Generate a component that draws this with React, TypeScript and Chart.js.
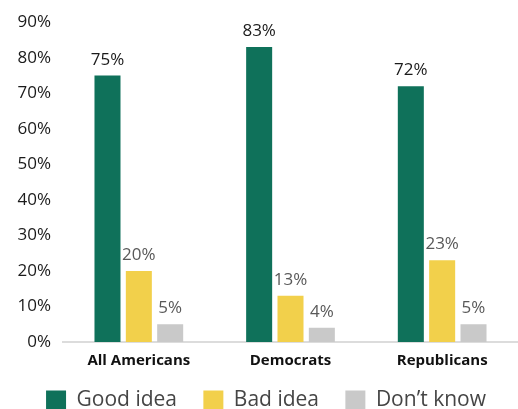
import React, { useEffect, useRef } from "react";
import { Chart, registerables } from "chart.js";

Chart.register(...registerables);

const categories = ["All Americans", "Democrats", "Republicans"];
const goodIdea = [75, 83, 72];
const badIdea = [20, 13, 23];
const dontKnow = [5, 4, 5];
const seriesNames = ["Good idea", "Bad idea", "Don\u2019t know"];
const yTicks = [0, 10, 20, 30, 40, 50, 60, 70, 80, 90];

const FONT = "'Open Sans', sans-serif";

const valueLabels = {
  id: "valueLabels",
  afterDatasetsDraw(chart: any) {
    const ctx = chart.ctx;
    ctx.save();
    ctx.font = `17px ${FONT}`;
    ctx.textAlign = "center";
    ctx.textBaseline = "alphabetic";
    chart.data.datasets.forEach((ds: any, di: number) => {
      const meta = chart.getDatasetMeta(di);
      ctx.fillStyle = di === 0 ? "#1a1a1a" : "#595959";
      meta.data.forEach((bar: any, i: number) => {
        ctx.fillText(ds.data[i] + "%", bar.x, bar.y - 11);
      });
    });
    ctx.restore();
  },
};

export default function App() {
  const ref = useRef<HTMLCanvasElement>(null);
  useEffect(() => {
    const chart = new Chart(ref.current!, {
      type: "bar",
      data: {
        labels: categories,
        datasets: [
          { label: seriesNames[0], data: goodIdea, backgroundColor: "#0f715a", borderWidth: 0 },
          { label: seriesNames[1], data: badIdea, backgroundColor: "#f2d04b", borderWidth: 0 },
          { label: seriesNames[2], data: dontKnow, backgroundColor: "#c9c9c9", borderWidth: 0 },
        ],
      },
      options: {
        animation: false,
        responsive: false,
        maintainAspectRatio: false,
        layout: { padding: { left: 14, right: 0, top: 12, bottom: 0 } },
        datasets: { bar: { categoryPercentage: 0.62, barPercentage: 0.83 } },
        plugins: {
          legend: {
            position: "bottom",
            labels: {
              boxWidth: 20,
              boxHeight: 20,
              padding: 10,
              color: "#454545",
              font: { family: FONT, size: 21 },
              generateLabels(chart: any) {
                const items = Chart.defaults.plugins.legend.labels.generateLabels(chart);
                return items.map((it: any, i: number) => ({
                  ...it,
                  text: i < items.length - 1 ? it.text + "   " : it.text,
                }));
              },
            },
          },
          tooltip: { enabled: false },
        },
        scales: {
          x: {
            grid: { display: false, drawTicks: false },
            border: { display: true, color: "#dcdcdc", width: 2 },
            ticks: { color: "#111", font: { family: FONT, size: 15, weight: "bold" }, padding: 10 },
          },
          y: {
            min: 0,
            max: 90,
            afterBuildTicks(axis: any) {
              axis.ticks = yTicks.map((v) => ({ value: v }));
            },
            afterFit(axis: any) {
              axis.width = 49;
            },
            grid: { display: false, drawTicks: false },
            border: { display: false },
            ticks: {
              color: "#1a1a1a",
              font: { family: FONT, size: 17 },
              padding: 12,
              callback: (v: any) => v + "%",
            },
          },
        },
      },
      plugins: [valueLabels],
    });
    return () => chart.destroy();
  }, []);
  return (
    <div style={{ position: "fixed", left: 0, top: 0, width: 518, height: 409, overflow: "hidden", background: "#fff" }}>
      <canvas ref={ref} width={518} height={421} style={{ display: "block" }} />
    </div>
  );
}
